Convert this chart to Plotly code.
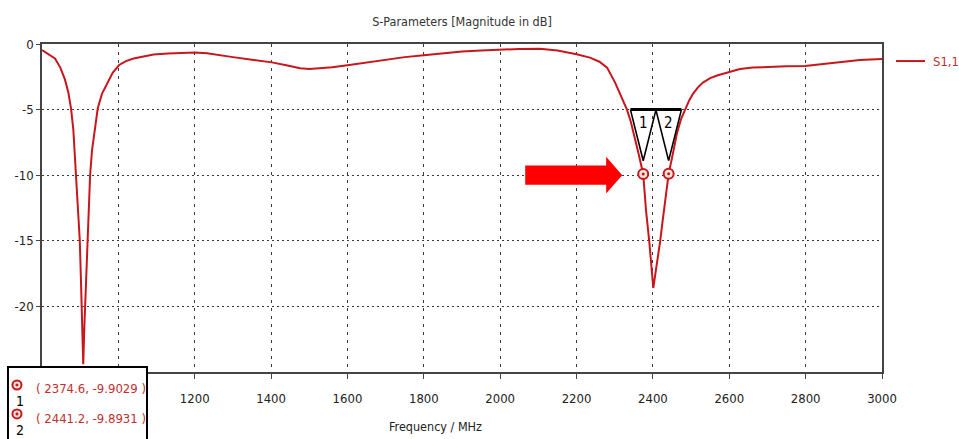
import plotly.graph_objects as go

# S1,1 magnitude (dB) versus frequency (MHz)
freq_mhz = [800, 815, 834, 848, 860, 869, 876, 882, 886, 889, 894, 899, 902, 905,
            908, 911, 913, 916, 919, 923, 926, 931, 938, 946, 957, 970, 985, 1002, 1020,
            1040, 1065, 1092, 1130, 1170, 1200, 1232, 1265, 1300, 1350, 1402, 1440, 1476,
            1500, 1528, 1560, 1600, 1650, 1700, 1750, 1800, 1850, 1900, 1950, 2000, 2050,
            2104, 2150, 2200, 2235, 2260, 2280, 2301, 2319, 2332, 2342, 2352, 2362, 2374.6,
            2382, 2390.6, 2396, 2401, 2406, 2412, 2418.7, 2425, 2432, 2441.2, 2452, 2463,
            2474, 2484, 2495, 2505, 2518, 2531, 2550, 2568, 2600, 2628, 2662, 2707, 2750,
            2798, 2840, 2882, 2942, 3000]
s11_db = [-0.46, -0.75, -1.1, -1.8, -2.7, -3.7, -4.9, -6.5, -8.1, -10.0, -12.5, -15.0,
          -18.0, -21.3, -24.4, -21.5, -20.0, -17.5, -15.0, -12.5, -10.0, -8.1, -6.4, -4.9,
          -3.8, -3.0, -2.2, -1.6, -1.3, -1.1, -0.95, -0.8, -0.72, -0.66, -0.65, -0.7, -0.82,
          -1.0, -1.2, -1.4, -1.62, -1.85, -1.9, -1.85, -1.78, -1.62, -1.4, -1.18, -1.0,
          -0.85, -0.7, -0.58, -0.5, -0.43, -0.38, -0.36, -0.5, -0.78, -1.04, -1.35, -1.8,
          -2.94, -4.2, -5.0, -5.9, -7.0, -8.3, -9.9029, -12.7, -15.1, -17.2, -18.6, -17.6,
          -16.5, -15.1, -13.6, -12.0, -9.8931, -8.4, -6.8, -5.7, -5.0, -4.3, -3.8, -3.3,
          -2.94, -2.6, -2.4, -2.15, -1.9, -1.8, -1.72, -1.7, -1.67, -1.55, -1.42, -1.22,
          -1.15]

# Markers placed on the curve
marker_ids = ["1", "2"]
marker_freq = [2374.6, 2441.2]
marker_db = [-9.9029, -9.8931]

# The first two frequency labels sit under the marker read-out box
x_ticks = [800, 1000, 1200, 1400, 1600, 1800, 2000, 2200, 2400, 2600, 2800, 3000]
x_tick_text = ["", "", "1200", "1400", "1600", "1800", "2000", "2200", "2400", "2600",
               "2800", "3000"]
y_ticks = [0, -5, -10, -15, -20]
y_tick_text = ["0", "-5", "-10", "-15", "-20"]

FONT = "Liberation Sans Narrow, DejaVu Sans Condensed, Arial Narrow, sans-serif"
CURVE_RED = "#c8161d"
TEXT_RED = "#c0302f"
GRID = "#3a3a3a"

fig = go.Figure()

fig.add_trace(go.Scatter(
    x=freq_mhz, y=s11_db, mode="lines", name="S1,1",
    line=dict(color=CURVE_RED, width=2),
    hoverinfo="skip", showlegend=False,
))

# Marker flags: triangles hanging from the -5 dB line down to each marker
half_w = 33.5
flag_top = -5.0
flag_gap = 1.0
for mid, mx, my in zip(marker_ids, marker_freq, marker_db):
    fig.add_trace(go.Scatter(
        x=[mx - half_w, mx, mx + half_w],
        y=[flag_top, my + flag_gap, flag_top],
        mode="lines", line=dict(color="black", width=1.6),
        showlegend=False, hoverinfo="skip",
    ))
    fig.add_annotation(x=mx, y=flag_top - 1.05, text=mid, showarrow=False,
                       xanchor="center", yanchor="middle",
                       font=dict(family=FONT, size=15, color="black"))

fig.add_trace(go.Scatter(
    x=[marker_freq[0] - half_w, marker_freq[-1] + half_w], y=[flag_top, flag_top],
    mode="lines", line=dict(color="black", width=3),
    showlegend=False, hoverinfo="skip",
))

# Marker symbols: open circle with a centre dot
fig.add_trace(go.Scatter(
    x=marker_freq, y=marker_db, mode="markers",
    marker=dict(symbol="circle", size=10, color="#f4e6d8",
                line=dict(color=CURVE_RED, width=2)),
    showlegend=False, hoverinfo="skip",
))
fig.add_trace(go.Scatter(
    x=marker_freq, y=marker_db, mode="markers",
    marker=dict(symbol="circle", size=3, color=CURVE_RED),
    showlegend=False, hoverinfo="skip",
))

# Red arrow pointing at marker 1
tip_x = marker_freq[0] - 55
head_x = tip_x - 42
tail_x = tip_x - 254
ay = -10.0
shaft_h = 0.73
head_h = 1.4
arrow_path = (f"M {tail_x},{ay + shaft_h} L {head_x},{ay + shaft_h} L {head_x},{ay + head_h} "
              f"L {tip_x},{ay} L {head_x},{ay - head_h} L {head_x},{ay - shaft_h} "
              f"L {tail_x},{ay - shaft_h} Z")
fig.add_shape(type="path", path=arrow_path, xref="x", yref="y",
              fillcolor="#ff0000", line=dict(width=0), layer="above")

# Marker read-out box in the lower-left corner
fig.add_shape(type="rect", xref="paper", yref="paper",
              x0=-0.0405, x1=0.125, y0=0.0152, y1=-0.3,
              fillcolor="white", line=dict(color="black", width=2), layer="above")
icon_y = [-0.0396, -0.128]
num_y = [-0.0885, -0.178]
text_y = [-0.0488, -0.143]
icon_x = -0.0298
rx, ry = 0.0054, 0.0137
for mid, mx, my, iy, ny, ty in zip(marker_ids, marker_freq, marker_db, icon_y, num_y, text_y):
    fig.add_shape(type="circle", xref="paper", yref="paper",
                  x0=icon_x - rx, x1=icon_x + rx, y0=iy - ry, y1=iy + ry,
                  fillcolor="#f4e6d8", line=dict(color=CURVE_RED, width=2), layer="above")
    fig.add_shape(type="circle", xref="paper", yref="paper",
                  x0=icon_x - rx / 3, x1=icon_x + rx / 3, y0=iy - ry / 3, y1=iy + ry / 3,
                  fillcolor=CURVE_RED, line=dict(width=0), layer="above")
    fig.add_annotation(xref="paper", yref="paper", x=-0.0262, y=ny, text=mid,
                       xanchor="center", yanchor="middle", showarrow=False,
                       font=dict(family=FONT, size=14, color="black"))
    fig.add_annotation(xref="paper", yref="paper", x=-0.0095, y=ty,
                       xanchor="left", yanchor="middle",
                       text=f"( {mx:.1f}, {my:.4f} )", showarrow=False,
                       font=dict(family=FONT, size=13, color=TEXT_RED))

# Legend entry drawn beside the plot frame
fig.add_shape(type="line", xref="paper", yref="paper",
              x0=1.0167, x1=1.0512, y0=0.948, y1=0.948,
              line=dict(color=CURVE_RED, width=2))
fig.add_annotation(xref="paper", yref="paper", x=1.0585, y=0.948, text="S1,1",
                   xanchor="left", yanchor="middle", showarrow=False,
                   font=dict(family=FONT, size=13, color=TEXT_RED))

# Axis title placed under the tick labels
fig.add_annotation(xref="paper", yref="paper", x=0.468, y=-0.165, text="Frequency / MHz",
                   xanchor="center", yanchor="middle", showarrow=False,
                   font=dict(family=FONT, size=12.5, color="#222"))

fig.update_layout(
    width=959, height=439,
    margin=dict(l=42, r=77, t=44, b=67),
    paper_bgcolor="white", plot_bgcolor="white",
    font=dict(family=FONT, size=13, color="#222"),
    title=dict(text="S-Parameters [Magnitude in dB]", x=0.5, xref="paper",
               y=1 - 22 / 439, yanchor="middle", xanchor="center",
               font=dict(family=FONT, size=12.5, color="#333")),
    showlegend=False,
)
fig.update_xaxes(
    range=[800, 3000], tickvals=x_ticks, ticktext=x_tick_text, ticks="outside", ticklen=5,
    tickcolor="#444", ticklabelstandoff=9,
    showline=True, linecolor="#444", linewidth=1.5, mirror=True,
    showgrid=True, gridcolor=GRID, gridwidth=1, griddash="3px,5px", zeroline=False,
)
fig.update_yaxes(
    range=[-25, 0], tickvals=y_ticks, ticktext=y_tick_text, ticks="outside", ticklen=4,
    tickcolor="#444",
    showline=True, linecolor="#444", linewidth=1.5, mirror=True,
    showgrid=True, gridcolor=GRID, gridwidth=1, griddash="2px,3px", zeroline=False,
)

fig.write_html("out.html")
